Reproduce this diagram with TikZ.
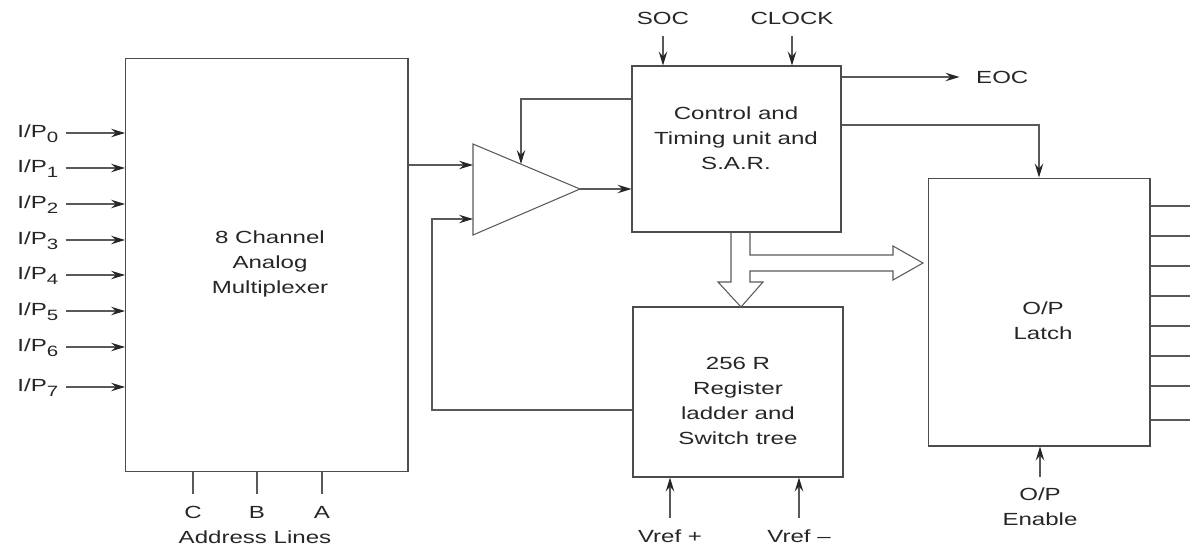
\documentclass[tikz,border=0pt]{standalone}
\usepackage{fontspec}
\setmainfont{Liberation Sans}[FakeStretch=1.37]
\usetikzlibrary{arrows.meta, positioning}

\newcommand{\insub}[1]{\raisebox{-0.55ex}{\fontsize{8.5}{9}\selectfont #1}}

\tikzset{
  blk/.style={draw=black!70, line width=0.6pt, inner sep=0pt},
  txt/.style={align=center, text=black!85},
  wire/.style={draw=black!65, line width=0.6pt},
  arr/.style={wire, -{Stealth[length=2.8mm, width=1.7mm, inset=1mm, color=black!85]}},
}

\begin{document}
\begin{tikzpicture}[x=0.02cm, y=-0.02cm, font=\fontsize{10}{14.2}\selectfont]
  \useasboundingbox (0,0) rectangle (1201,552);

  % blocks
  \node[blk, minimum width=5.66cm, minimum height=8.28cm] (mux) at (266.5,265) {};
  \node[txt] (muxtxt) at (270,264) {8 Channel\\Analog\\Multiplexer};
  \node[blk, minimum width=4.18cm, minimum height=3.32cm] (ctrl) at (736.5,149) {};
  \node[txt] (ctrltxt) at (736,138) {Control and\\Timing unit and\\S.A.R.};
  \node[blk, minimum width=4.2cm, minimum height=3.4cm] (reg) at (738,392) {};
  \node[txt] (regtxt) at (738,401) {256 R\\Register\\ladder and\\Switch tree};
  \node[blk, minimum width=4.44cm, minimum height=5.36cm] (latch) at (1039,312) {};
  \node[txt] (latchtxt) at (1043,321) {O/P\\Latch};

  % inputs of the multiplexer
  \foreach \i/\y in {0/133,1/168,2/204,3/240,4/275,5/311,6/347,7/387} {
    \node[txt, anchor=base west, inner xsep=4pt] (ip\i) at (10,\y+4) {I/P\insub{\i}};
    \coordinate (in\i) at (125,\y);
    \draw[arr] (ip\i.east |- in\i) -- (in\i);
  }

  % address lines
  \foreach \n/\x in {C/193,B/257,A/322} {
    \node[txt] (ad\n) at (\x,512) {\n};
    \coordinate (at\n) at (\x,494);
    \draw[wire] (at\n |- mux.south) -- (at\n);
  }
  \node[txt] (addr) at (255,537) {Address Lines};

  % comparator
  \coordinate (opa) at (473,144);
  \coordinate (opb) at (473,235);
  \coordinate (opout) at (580,189);
  \draw[wire] (opa) -- (opout) -- (opb) -- cycle;
  \coordinate (opin1) at (473,165);
  \coordinate (opin2) at (473,219);
  \coordinate (opfb) at (521,164);
  \coordinate (fbtop) at (521,99);
  \coordinate (fbrow) at (432,410);

  \draw[arr] (mux.east |- opin1) -- (opin1);
  \draw[arr] (opout) -- (ctrl.west |- opout);
  \draw[arr] (ctrl.west |- fbtop) -- (fbtop) -- (opfb);
  \draw[arr] (reg.west |- fbrow) -- (fbrow) |- (opin2);

  % control inputs and outputs
  \node[txt] (soc) at (663,18) {SOC};
  \node[txt] (clk) at (792,18) {CLOCK};
  \draw[arr, shorten <=3pt] (soc.south) -- (soc.south |- ctrl.north);
  \draw[arr, shorten <=3pt] (clk.south) -- (clk.south |- ctrl.north);
  \node[txt, anchor=west] (eoc) at (970,77) {EOC};
  \draw[arr, shorten >=6pt] (ctrl.east |- eoc) -- (eoc.west);
  \coordinate (ltap) at (1039,125);
  \draw[arr] (ctrl.east |- ltap) -| (latch.north);

  % data bus (hollow arrows)
  \draw[wire] (750,232) -- (750,255) -- (893,255) -- (893,246) -- (923,263)
    -- (893,280) -- (893,271) -- (750,271) -- (750,282) -- (763,282)
    -- (741,307) -- (718,282) -- (731,282) -- (731,232);

  % reference inputs
  \node[txt] (vrp) at (670,536) {Vref +};
  \node[txt] (vrm) at (799,536) {Vref \textendash};
  \draw[arr, shorten <=3pt] (vrp.north) -- (vrp.north |- reg.south);
  \draw[arr, shorten <=3pt] (vrm.north) -- (vrm.north |- reg.south);

  % latch outputs and enable
  \foreach \y in {206,236,266,296,326,356,386,420} {
    \coordinate (q\y) at (1190,\y);
    \draw[wire] (latch.east |- q\y) -- (q\y);
  }
  \node[txt] (oen) at (1040,507) {O/P\\Enable};
  \draw[arr, shorten <=3pt] (oen.north) -- (oen.north |- latch.south);
\end{tikzpicture}
\end{document}
